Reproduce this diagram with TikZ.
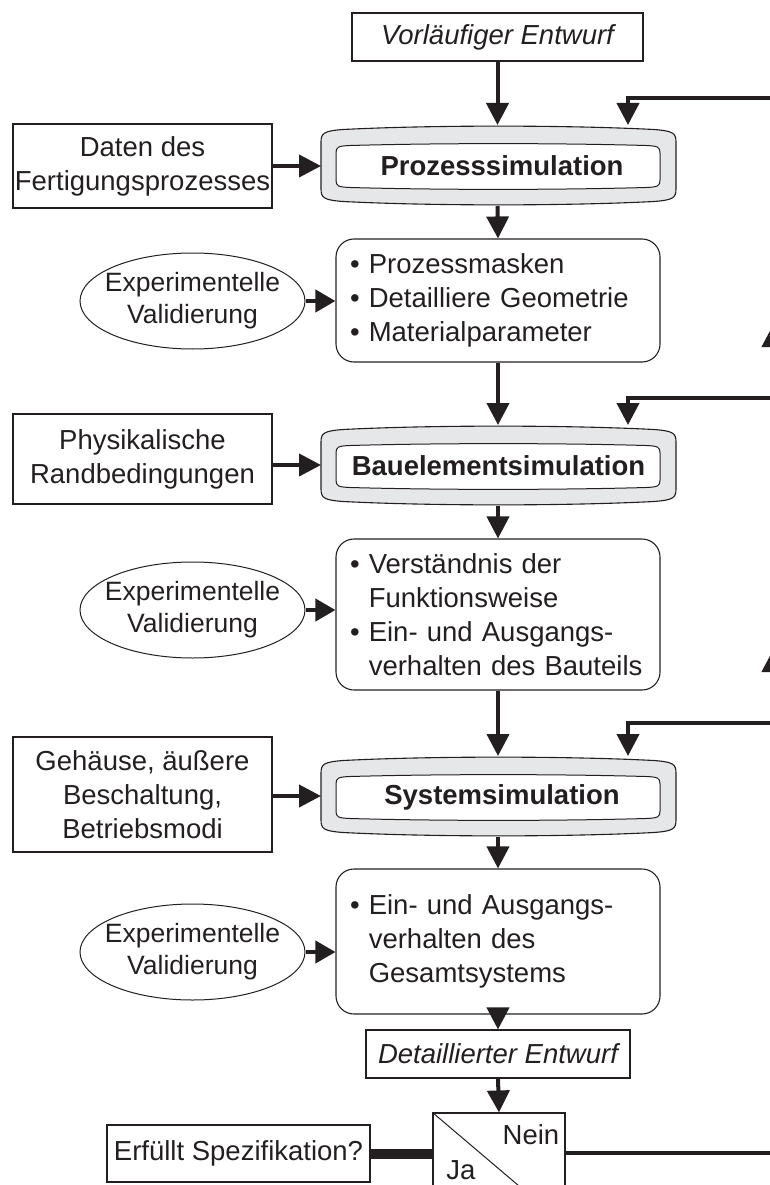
\documentclass[tikz,border=0pt]{standalone}
\usepackage{fontspec}
\setmainfont{Liberation Sans}
\usetikzlibrary{arrows.meta,shapes.geometric}
\definecolor{ink}{HTML}{231F20}
\definecolor{ring}{HTML}{E6E7E8}

% Grey ring with bulged edges around a simulation step: #1 left, #2 top, #3 right, #4 bottom
\newcommand\simframe[4]{%
  \draw[draw=ink, line width=1.1pt, fill=ring]
    (#1,#2+17) .. controls (#1,#2+8) and (#1+3,#2+6) .. (#1+22,#2+4.5)
    .. controls (#1+110,#2) and (#3-110,#2) .. (#3-22,#2+4.5)
    .. controls (#3-3,#2+6) and (#3,#2+8) .. (#3,#2+17)
    -- (#3,#4-17)
    .. controls (#3,#4-8) and (#3-3,#4-6) .. (#3-22,#4-4.5)
    .. controls (#3-110,#4) and (#1+110,#4) .. (#1+22,#4-4.5)
    .. controls (#1+3,#4-6) and (#1,#4-8) .. (#1,#4-17) -- cycle;
  \draw[draw=ink, line width=1pt, fill=white]
    (#1+15,#2+28) .. controls (#1+15,#2+22) and (#1+17,#2+21) .. (#1+29,#2+20.5)
    .. controls (#1+120,#2+18) and (#3-120,#2+18) .. (#3-30,#2+20.5)
    .. controls (#3-18,#2+21) and (#3-16,#2+22) .. (#3-16,#2+28)
    -- (#3-16,#4-26)
    .. controls (#3-16,#4-20) and (#3-18,#4-19) .. (#3-30,#4-18.5)
    .. controls (#3-120,#4-16) and (#1+120,#4-16) .. (#1+29,#4-18.5)
    .. controls (#1+17,#4-19) and (#1+15,#4-20) .. (#1+15,#4-26) -- cycle;
}

\begin{document}
\begin{tikzpicture}[x=1pt,y=-1pt,
  font=\fontsize{27.5}{34}\selectfont,
  box/.style={draw=ink, line width=1.1pt, rectangle, inner sep=0pt, align=center, text=ink},
  listbox/.style={draw=ink, line width=1.1pt, rounded corners=18pt, minimum width=324pt,
    text width=296pt, inner xsep=14pt, inner ysep=0pt, align=left, text=ink},
  valid/.style={ellipse, draw=ink, line width=1pt, minimum width=225pt, minimum height=96pt,
    inner xsep=-16pt, inner ysep=-6pt, align=center, text=ink,
    font=\fontsize{26.5}{32}\selectfont},
  simstep/.style={minimum width=355pt, minimum height=81pt, inner sep=0pt, text=ink,
    font=\fontsize{27.5}{34}\selectfont\bfseries},
  arr/.style={draw=ink, line width=4pt, -{Triangle[width=22pt,length=22pt]}},
  sarr/.style={draw=ink, line width=4pt, -{Triangle[width=22pt,length=20pt]}},
  feed/.style={arr, line join=miter},
]
\useasboundingbox (0,0) rectangle (770,1185);
\clip (0,0) rectangle (770,1185);

% simulation rings
\simframe{321}{125}{676}{206}
\simframe{321}{425}{676}{506}
\simframe{321}{756}{676}{837}

% top input
\node[box, minimum width=291pt, minimum height=48pt, font=\fontsize{27.5}{34}\selectfont\itshape] (vorl) at (497.5,37) {Vorläufiger Entwurf};

% process level
\node[simstep] (ps) at (502,166) {Prozesssimulation};
\node[box, minimum width=259pt, minimum height=84pt] (dat) at (142.5,166) {Daten des\\Fertigungsprozesses};
\node[listbox, minimum height=123pt] (l1) at (498,300.5)
  {\textbullet\ Prozessmasken\\\textbullet\ Detailliere Geometrie\\\textbullet\ Materialparameter};
\node[valid] (e1) at (192.5,301) {Experimentelle\\Validierung};

% device level
\node[simstep] (bs) at (498.5,466) {Bauelementsimulation};
\node[box, minimum width=259pt, minimum height=90pt] (phy) at (142.5,459) {Physikalische\\Randbedingungen};
\node[listbox, minimum height=151pt] (l2) at (498,614.5)
  {\textbullet\ Verständnis der\\\hphantom{\textbullet\ }Funktionsweise\\\textbullet\ Ein- und Ausgangs-\\\hphantom{\textbullet\ }\mbox{verhalten des Bauteils}};
\node[valid] (e2) at (192.5,610) {Experimentelle\\Validierung};

% system level
\node[simstep] (ss) at (502,797) {Systemsimulation};
\node[box, minimum width=259pt, minimum height=115pt] (geh) at (142.5,794.5) {Gehäuse, äußere\\Beschaltung,\\Betriebsmodi};
\node[listbox, minimum height=145pt] (l3) at (498,941.5)
  {\textbullet\ Ein- und Ausgangs-\\\hphantom{\textbullet\ }verhalten des\\\hphantom{\textbullet\ }Gesamtsystems};
\node[valid] (e3) at (192.5,952) {Experimentelle\\Validierung};

% result and decision
\node[box, minimum width=264pt, minimum height=48pt, font=\fontsize{27.5}{34}\selectfont\itshape] (det) at (498,1054) {Detaillierter Entwurf};
\node[box, minimum width=132pt, minimum height=112pt] (dec) at (499,1169) {};
\draw[ink, line width=1pt] (dec.north west) -- (dec.south east);
\node[text=ink] (nein) at (531,1135) {Nein};
\node[text=ink] (ja) at (461,1170) {Ja};
\node[box, minimum width=263pt, minimum height=57pt] (erf) at (238.5,1153.5) {Erfüllt Spezifikation?};
\draw[ink, line width=10pt] (erf.east) -- (erf.east -| dec.west);

% main flow
\draw[arr] (vorl.south) -- (vorl.south |- 0,125);
\draw[arr] (vorl.south |- 0,206) -- (l1.north);
\draw[arr] (l1.south) -- (l1.south |- 0,425);
\draw[arr] (l1.south |- 0,506) -- (l2.north);
\draw[arr] (l2.south) -- (l2.south |- 0,756);
\draw[arr] (l2.south |- 0,837) -- (l3.north);
\draw[arr] (l3.south) -- (det.north);
\draw[arr] (det.south) -- (dec.north);

% side inputs
\draw[arr] (dat.east) -- (dat.east -| 321,0);
\draw[arr] (phy.east |- 0,465) -- (321,465);
\draw[arr] (geh.east |- 0,796) -- (321,796);
\draw[sarr] (e1.east) -- (e1.east -| l1.west);
\draw[sarr] (e2.east) -- (e2.east -| l2.west);
\draw[sarr] (e3.east) -- (e3.east -| l3.west);

% feedback loop along the right edge
\coordinate (rb) at (773,1153);
\coordinate (up1) at (773,650);
\coordinate (up2) at (773,325);
\coordinate (fb3) at (773,723);
\coordinate (fb2) at (773,398);
\coordinate (fb1) at (773,98);
\draw[ink, line width=4pt] (dec.east |- rb) -- (rb);
\draw[arr] (rb) -- (up1);
\draw[arr] (up1) -- (up2);
\draw[ink, line width=4pt] (up2) -- (fb1);
\draw[feed] (fb1) -| (628,125);
\draw[feed] (fb2) -| (628,425);
\draw[feed] (fb3) -| (628,756);
\end{tikzpicture}
\end{document}
